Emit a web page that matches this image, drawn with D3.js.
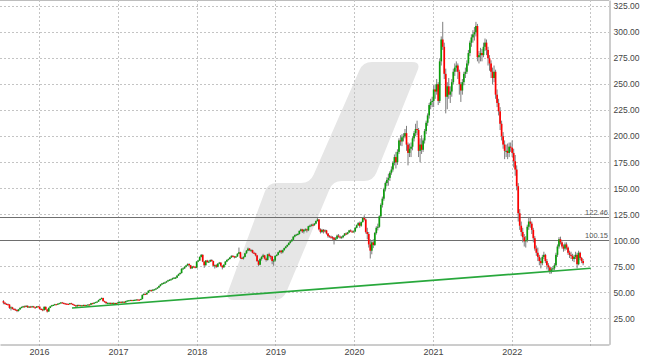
<!DOCTYPE html>
<html><head><meta charset="utf-8">
<script src="https://cdn.jsdelivr.net/npm/d3@7"></script>
<style>
html,body{margin:0;padding:0;background:#fff;}
svg{display:block;font-family:"Liberation Sans",Arial,sans-serif;}
</style></head><body>
<svg id="chart" width="645" height="363"></svg>
<script>
// ---------- DATA (weekly candles; open = previous close) ----------
const firstOpen = 41.5;
const weekStarts = ["2015-07-20","2016-01-04","2017-01-02","2018-01-01","2018-12-31","2020-01-06","2021-01-04","2022-01-03"];

const close2015 = [40.0,38.8,38.5,38.2,35.0,35.5,34.0,33.5,33.0,32.0,33.5,35.0,35.8,36.5,36.0,37.0,35.5,36.2,35.8,36.5,35.6,35.2,36.5,36.2];
const high2015  = [42.5,40.5,39.5,39.2,38.6,36.5,36.0,34.8,34.3,33.6,34.0,35.5,36.4,37.0,37.2,37.6,37.4,36.8,36.9,37.0,36.9,36.0,36.8,36.9];
const low2015   = [38.5,38.2,37.8,37.5,34.0,32.5,33.5,32.8,32.4,30.9,31.5,33.2,34.6,35.3,35.4,35.8,35.0,35.1,35.4,35.5,35.1,34.4,35.0,35.8];

const close2016 = [34.0,33.5,32.8,36.0,33.5,31.5,35.0,36.5,37.5,37.8,38.5,38.2,39.0,39.5,40.2,39.8,39.2,39.0,38.8,38.5,39.5,38.8,38.0,37.5,36.5,37.8,37.2,37.5,37.2,37.8,37.5,37.6,38.2,38.0,39.5,39.0,40.0,40.5,41.0,42.5,43.5,44.5,41.5,40.8,39.5,39.8,39.8,39.0,39.8,39.5,39.7,39.5];
const high2016  = [36.4,34.6,34.2,36.5,36.4,33.8,35.4,37.0,37.9,38.3,38.9,38.8,39.4,39.9,40.6,40.7,40.1,39.7,39.4,39.2,39.8,39.9,39.1,38.3,37.9,38.1,38.2,37.9,37.9,38.1,38.2,38.0,38.6,38.6,39.8,39.9,40.3,40.9,41.4,42.9,44.0,45.0,44.8,41.9,41.0,40.3,40.2,40.1,40.1,40.2,40.0,40.0];
const low2016   = [33.6,32.9,31.8,32.5,33.0,30.5,31.3,34.8,36.2,37.0,37.5,37.7,37.9,38.7,39.2,39.4,38.5,38.5,38.3,38.0,38.3,38.4,37.6,37.0,35.6,36.2,36.9,36.9,36.8,36.9,37.1,37.2,37.4,37.6,37.8,38.6,38.7,39.7,40.2,40.8,42.2,43.2,41.0,40.0,38.9,38.6,39.3,38.6,38.8,39.1,39.2,39.2];

const close2017 = [40.5,40.8,40.5,40.9,40.2,41.5,42.0,42.2,42.5,42.2,42.5,42.7,43.0,42.9,42.8,43.5,47.5,48.5,48.0,49.5,51.5,52.0,51.5,52.5,52.8,53.6,54.5,56.0,57.5,58.5,59.0,59.5,60.5,61.5,62.0,62.5,63.5,64.0,64.0,66.0,67.5,68.5,72.5,73.0,74.5,75.8,77.2,76.0,73.0,74.8,74.6,73.6];
const high2017  = [41.0,41.2,41.2,41.3,41.2,41.8,42.4,42.6,42.9,42.8,42.9,43.1,43.4,43.4,43.3,43.9,48.0,48.9,48.8,49.9,51.9,52.6,52.5,53.0,53.3,54.0,55.0,56.5,58.0,59.0,59.7,60.2,61.0,62.0,62.6,63.1,64.0,64.6,64.8,66.5,68.0,69.2,73.2,73.8,75.0,76.3,77.8,78.0,76.4,75.3,75.5,75.0];
const low2017   = [39.2,40.0,40.0,40.1,39.7,40.0,41.2,41.7,41.9,41.8,41.9,42.1,42.4,42.5,42.3,42.6,43.2,47.0,47.4,47.7,49.2,51.0,50.8,51.0,52.0,52.4,53.2,54.2,55.6,57.0,57.8,58.4,59.0,60.0,61.0,61.5,62.0,63.0,63.2,63.7,65.6,67.0,68.0,71.8,72.4,74.0,75.2,75.3,72.3,72.5,73.8,73.0];

const close2018 = [79.5,80.5,84.0,86.0,79.5,76.0,80.5,79.0,79.5,81.0,80.0,75.5,76.0,74.5,77.5,78.5,75.5,74.0,76.5,79.5,81.0,82.0,83.5,85.0,84.5,83.5,84.5,87.0,88.5,83.0,82.5,84.0,87.5,90.0,92.0,90.5,90.5,88.0,87.5,85.5,80.0,76.5,82.0,84.0,85.5,82.5,81.0,86.5,85.0,84.5,80.0,80.5];
const high2018  = [80.0,81.2,84.6,86.8,86.5,80.0,81.0,81.2,80.6,81.6,81.8,80.4,76.8,77.0,78.0,79.2,79.0,76.0,77.0,80.0,81.6,82.6,84.0,85.6,85.8,85.0,85.0,87.6,93.0,89.0,84.0,84.6,88.0,90.6,93.0,92.5,91.5,91.0,89.0,88.0,86.0,81.0,83.0,85.0,87.0,86.0,83.5,87.0,88.0,86.0,85.0,82.0];
const low2018   = [73.2,79.0,80.2,83.5,79.0,73.5,75.6,78.4,78.2,79.0,79.4,75.0,72.8,73.5,74.0,77.0,74.8,72.0,73.6,76.0,79.0,80.5,81.6,83.0,83.8,82.6,83.0,84.0,86.6,82.0,81.8,81.5,83.6,87.0,89.5,89.6,89.0,87.4,86.8,84.5,79.2,75.0,76.0,80.5,83.5,81.5,79.5,80.5,83.5,81.5,77.0,75.5];

const close2019 = [85.0,86.0,88.5,90.0,88.5,90.5,92.5,94.0,95.5,97.5,99.0,100.5,103.5,105.0,105.5,106.0,109.0,110.5,108.5,110.0,110.5,109.5,113.5,114.0,115.0,114.5,116.0,118.5,120.0,110.5,108.0,110.0,108.5,109.5,106.5,104.0,103.5,103.0,102.5,100.5,101.5,104.5,103.5,102.5,103.0,104.5,106.5,106.0,107.5,109.5,108.5,108.2,108.5];
const high2019  = [85.5,86.5,89.0,90.6,90.8,91.0,93.0,94.6,96.0,98.0,99.6,101.2,104.0,105.6,106.2,106.8,109.6,111.2,111.0,110.8,111.5,111.2,114.0,115.0,115.8,116.0,116.6,119.0,121.5,120.5,111.5,111.0,110.8,110.5,110.0,107.0,105.0,104.5,104.0,103.0,103.0,105.5,106.0,104.5,104.0,105.0,107.0,107.5,108.0,110.0,110.5,109.5,109.5];
const low2019   = [79.5,84.5,85.5,87.8,87.0,87.5,90.0,92.0,93.4,95.0,96.8,98.5,100.0,102.8,104.4,104.8,105.5,108.4,107.0,106.5,108.8,107.5,108.8,112.5,113.2,113.5,114.0,115.5,118.0,109.5,106.5,107.0,106.5,107.5,105.5,102.5,102.5,101.5,100.5,96.0,99.5,101.0,102.5,101.5,101.5,102.0,104.0,105.0,105.5,107.0,107.8,107.5,107.6];

const close2020 = [112.0,114.5,116.5,114.0,117.5,121.5,120.0,108.0,106.0,96.0,90.0,98.0,95.5,107.0,112.0,113.0,123.0,134.0,140.0,149.0,155.0,158.0,160.0,165.0,168.0,174.5,180.0,175.0,185.0,196.0,195.0,199.0,200.0,203.0,192.0,184.0,188.0,190.0,198.0,203.0,207.0,206.0,186.0,192.0,187.0,196.0,205.0,213.0,220.0,230.0,233.0,234.0];
const high2020  = [112.8,115.2,117.5,118.0,118.0,122.0,124.0,121.0,112.0,108.0,101.0,99.5,101.0,108.0,113.5,116.0,124.0,135.5,142.0,150.5,156.5,160.5,164.0,166.5,171.0,176.0,182.5,185.0,187.5,198.0,201.0,202.0,203.0,207.0,210.0,194.0,193.0,194.0,200.0,205.0,212.0,215.0,208.0,198.0,201.0,198.0,207.0,215.0,222.0,232.0,236.0,238.0];
const low2020   = [107.8,111.4,113.8,112.0,113.0,117.0,119.0,106.5,101.0,93.0,82.5,86.5,92.5,94.5,105.5,109.5,112.0,121.5,131.5,138.0,147.0,152.0,152.5,157.0,163.0,166.0,172.0,169.0,172.5,183.0,191.0,190.5,195.0,198.0,186.0,172.0,180.0,180.0,186.5,195.0,200.0,201.0,180.0,175.0,183.0,185.0,193.0,202.0,210.0,217.0,226.0,228.0];

const close2021 = [245,243,250,234,272,293,286,260,238,248,240,243,252,262,266,268,262,250,244,252,260,262,270,280,290,295,298,300,306,276,278,280,278,286,290,283,275,270,262,256,262,240,232,224,212,200,192,186,186,184,190,189];
const high2021  = [249,250,255,252,275,296,310,290,265,252,256,248,255,265,270,272,270,264,252,255,262,266,273,283,292,298,302,305,310,308,282,285,284,290,294,293,286,278,273,266,268,264,245,236,228,215,204,196,192,193,194,194];
const low2021   = [228,236,240,230,232,268,283,255,222,226,236,232,238,250,258,262,255,240,233,240,249,256,260,268,277,286,290,292,296,272,270,272,272,276,282,278,268,263,256,250,252,236,228,220,206,196,188,178,180,178,180,185];

const close2022 = [184,176,168,152,126,114,108,103,99,100,113,118,116,110,102,92,88,84,80,78,84,86,80,76,74,70,72,73,76,86,94,101,98,94,92,96,93,88,86,85,82,84,86,77,88,83,80,78];
const high2022  = [196,188,182,172,155,130,118,112,106,104,115,122.5,122,118,112,104,95,93,86,83,86,89,87,82,78,75,74,75,78,88,96,103,103.5,99,96,98,98,94,90,89,87,86,89,88,90,89,84,82];
const low2022   = [180,170,162,148,118,110,104,98,94,93,98,110,112,106,98,90,85,80,76,73,76,82,78,72,70,67.6,68,69.5,71,75,84,92,96,92,89,90,91,86,83,82,80,79,82,73,76,81,78,76];

const closes = [close2015,close2016,close2017,close2018,close2019,close2020,close2021,close2022];
const highs  = [high2015,high2016,high2017,high2018,high2019,high2020,high2021,high2022];
const lows   = [low2015,low2016,low2017,low2018,low2019,low2020,low2021,low2022];

const yTicks = [25,50,75,100,125,150,175,200,225,250,275,300,325];
const yearLabels = [2016,2017,2018,2019,2020,2021,2022];
const gridYears = [2016,2017,2018,2019,2020,2021,2022,2023];
const levelValues = [122.46, 100.15];
const trendDates = ["2016-06-02","2023-01-02"];
const trendValues = [34.9, 73.1];

// ---------- BUILD ----------
const parse = d3.timeParse("%Y-%m-%d");
const candles = [];
let prevClose = firstOpen;
closes.forEach((arr, s) => {
  const start = parse(weekStarts[s]);
  arr.forEach((c, k) => {
    candles.push({date: d3.timeDay.offset(start, 7*k), open: prevClose, close: c, high: highs[s][k], low: lows[s][k]});
    prevClose = c;
  });
});

const W = 609, H = 344;
const svg = d3.select("#chart");
const x = d3.scaleTime().domain([new Date(2015,6,4), new Date(2023,2,28)]).range([0, W]);
const y = d3.scaleLinear().domain([0, 331]).range([344.3, 0]);
const crisp = v => Math.round(v) + 0.5;

svg.append("defs").append("clipPath").attr("id","clip")
  .append("rect").attr("x",0).attr("y",0).attr("width",W).attr("height",H);

// watermark logo (decoration)
function roundedPath(pts, r) {
  const n = pts.length; let d = "";
  for (let i = 0; i < n; i++) {
    const p0 = pts[(i-1+n)%n], p1 = pts[i], p2 = pts[(i+1)%n];
    const v1 = [p0[0]-p1[0], p0[1]-p1[1]], v2 = [p2[0]-p1[0], p2[1]-p1[1]];
    const l1 = Math.hypot(...v1), l2 = Math.hypot(...v2);
    const rr = Math.min(r, l1/2, l2/2);
    const a = [p1[0]+v1[0]/l1*rr, p1[1]+v1[1]/l1*rr];
    const b = [p1[0]+v2[0]/l2*rr, p1[1]+v2[1]/l2*rr];
    d += (i===0 ? "M" : "L") + a[0] + "," + a[1] + "Q" + p1[0] + "," + p1[1] + " " + b[0] + "," + b[1];
  }
  return d + "Z";
}
const logo = [[225,300],[268,183],[310,183],[363,62],[421,62],[373,181],[333,181],[283,300]];
svg.append("path").attr("d", roundedPath(logo, 9)).attr("fill", "#e6e6e6");

// top border
svg.append("line").attr("x1",0).attr("x2",W).attr("y1",0.5).attr("y2",0.5).attr("stroke","#bdbdbd");

// grid
const grid = svg.append("g");
grid.selectAll(".hg").data(yTicks).join("line")
  .attr("x1",0).attr("x2",W).attr("y1",d=>crisp(y(d))).attr("y2",d=>crisp(y(d)))
  .attr("stroke","#c4c4c4").attr("stroke-dasharray","2,2");
grid.selectAll(".vg").data(gridYears).join("line")
  .attr("x1",d=>crisp(x(new Date(d,0,1)))).attr("x2",d=>crisp(x(new Date(d,0,1))))
  .attr("y1",0).attr("y2",H+3)
  .attr("stroke","#c4c4c4").attr("stroke-dasharray","2,2");

// level lines
const lv = svg.append("g");
lv.selectAll("line").data(levelValues).join("line")
  .attr("x1",0).attr("x2",W).attr("y1",d=>crisp(y(d))).attr("y2",d=>crisp(y(d)))
  .attr("stroke","#6e6e6e").attr("stroke-width",1);
lv.selectAll("text").data(levelValues).join("text")
  .attr("x",W-1).attr("y",d=>crisp(y(d))-2.5).attr("text-anchor","end")
  .attr("font-size","7.5px").attr("fill","#555").text(d=>d3.format(".2f")(d));

// candles
const cg = svg.append("g").attr("clip-path","url(#clip)");
cg.selectAll(".wick").data(candles).join("line")
  .attr("x1",d=>x(d.date)).attr("x2",d=>x(d.date))
  .attr("y1",d=>y(d.high)).attr("y2",d=>y(d.low))
  .attr("stroke","#7d7d7d").attr("stroke-width",1);
const bw = 1.7;
cg.selectAll(".body").data(candles).join("rect")
  .attr("x",d=>x(d.date)-bw/2).attr("width",bw)
  .attr("y",d=>y(Math.max(d.open,d.close)))
  .attr("height",d=>Math.max(1, Math.abs(y(d.open)-y(d.close))))
  .attr("fill",d=>d.close>=d.open ? "#0c9e0c" : "#ff0000");

// trend line
const trend = trendDates.map((t,i)=>({date: parse(t), value: trendValues[i]}));
svg.append("path").datum(trend)
  .attr("d", d3.line().x(d=>x(d.date)).y(d=>y(d.value)))
  .attr("fill","none").attr("stroke","#28a83c").attr("stroke-width",1.7);

// axes
const yAxis = svg.append("g").attr("transform",`translate(${W+0.5},0)`)
  .call(d3.axisRight(y).tickValues(yTicks).tickFormat(d3.format(".2f")).tickSize(0).tickPadding(4));
yAxis.select(".domain").attr("stroke","#9a9a9a");
yAxis.selectAll("text").attr("font-size","8.5px").attr("fill","#444").attr("font-family","Liberation Sans, Arial, sans-serif");

const xAxis = svg.append("g").attr("transform",`translate(0,${H+0.5})`)
  .call(d3.axisBottom(x).tickValues(yearLabels.map(v=>new Date(v,0,1))).tickFormat(d3.timeFormat("%Y")).tickSize(0).tickPadding(4));
xAxis.select(".domain").attr("stroke","#9a9a9a");
xAxis.selectAll("text").attr("font-size","9px").attr("fill","#444").attr("font-family","Liberation Sans, Arial, sans-serif");
</script>
</body></html>
